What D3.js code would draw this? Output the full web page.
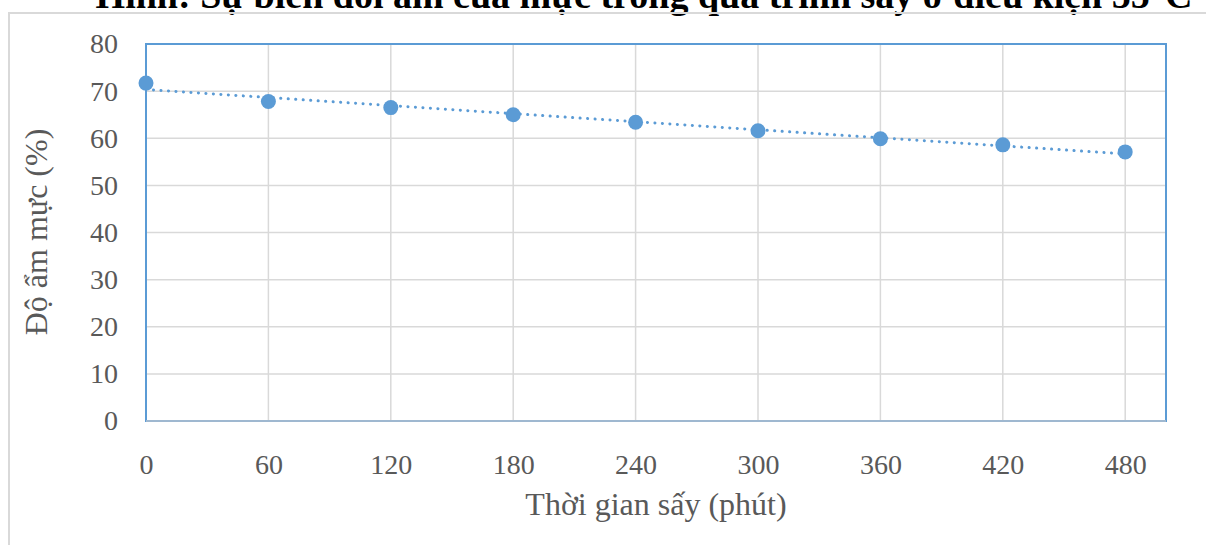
<!DOCTYPE html>
<html>
<head>
<meta charset="utf-8">
<script src="https://cdn.jsdelivr.net/npm/d3@7"></script>
<style>
  body { margin: 0; background: #fff; }
  text { font-family: "Liberation Serif", "Times New Roman", serif; }
</style>
</head>
<body>
<div id="chart"></div>
<script>
// data
const times = [0, 60, 120, 180, 240, 300, 360, 420, 480];
const moisture = [71.7, 67.8, 66.5, 65.0, 63.4, 61.6, 59.9, 58.6, 57.1];
const xTicks = [0, 60, 120, 180, 240, 300, 360, 420, 480];
const yTicks = [0, 10, 20, 30, 40, 50, 60, 70, 80];

const W = 1206, H = 545;
const margin = {top: 44, right: 40, bottom: 124, left: 146};
const width = W - margin.left - margin.right;
const height = H - margin.top - margin.bottom;

const svg = d3.select("#chart")
  .append("svg")
  .attr("width", W)
  .attr("height", H);

// title (its top is cut off in the original picture)
svg.append("text")
  .attr("x", 644)
  .attr("y", 8)
  .attr("text-anchor", "middle")
  .style("font-weight", "bold")
  .style("font-size", "38px")
  .style("fill", "#000")
  .text("Hình: Sự biến đổi ẩm của mực trong quá trình sấy ở điều kiện 55°C");

// outer chart frame
svg.append("rect")
  .attr("x", 9)
  .attr("y", 13)
  .attr("width", W)
  .attr("height", H)
  .attr("fill", "none")
  .attr("stroke", "#d9d9d9")
  .attr("stroke-width", 2);

const g = svg.append("g")
  .attr("transform", `translate(${margin.left}, ${margin.top})`);

const x = d3.scaleLinear().domain([0, 500]).range([0, width]);
const y = d3.scaleLinear().domain([0, 80]).range([height, 0]);

// gridlines
g.append("g")
  .selectAll("line")
  .data(yTicks.filter(d => d > 0 && d < 80))
  .join("line")
    .attr("x1", 0).attr("x2", width)
    .attr("y1", d => y(d)).attr("y2", d => y(d))
    .attr("stroke", "#d9d9d9")
    .attr("stroke-width", 1.5);

g.append("g")
  .selectAll("line")
  .data(xTicks.filter(d => d > 0))
  .join("line")
    .attr("x1", d => x(d)).attr("x2", d => x(d))
    .attr("y1", 0).attr("y2", height)
    .attr("stroke", "#d9d9d9")
    .attr("stroke-width", 1.5);

// plot area border
g.append("rect")
  .attr("width", width)
  .attr("height", height)
  .attr("fill", "none")
  .attr("stroke", "#5b9bd5")
  .attr("stroke-width", 2);

g.append("line")
  .attr("x1", 0).attr("x2", width)
  .attr("y1", height).attr("y2", height)
  .attr("stroke", "#9fb8d0")
  .attr("stroke-width", 2);

// axes (labels only)
const xAxis = g.append("g")
  .attr("transform", `translate(0, ${height})`)
  .call(d3.axisBottom(x).tickValues(xTicks).tickSize(0).tickPadding(33));
const yAxis = g.append("g")
  .call(d3.axisLeft(y).tickValues(yTicks).tickSize(0).tickPadding(28));
[xAxis, yAxis].forEach(a => {
  a.select(".domain").remove();
  a.selectAll("text")
    .style("font-family", "'Liberation Serif', 'Times New Roman', serif")
    .style("font-size", "28px")
    .style("fill", "#595959");
});

// linear trendline (least squares through the points)
const n = times.length;
const mx = d3.mean(times), my = d3.mean(moisture);
const slope = d3.sum(times, (t, i) => (t - mx) * (moisture[i] - my)) / d3.sum(times, t => (t - mx) ** 2);
const icpt = my - slope * mx;
const trend = [times[0], times[n - 1]].map(t => [t, icpt + slope * t]);

g.append("path")
  .datum(trend)
  .attr("d", d3.line().x(d => x(d[0])).y(d => y(d[1])))
  .attr("fill", "none")
  .attr("stroke", "#5b9bd5")
  .attr("stroke-width", 3)
  .attr("stroke-linecap", "round")
  .attr("stroke-dasharray", "0.1 7.4");

// points
g.append("g")
  .selectAll("circle")
  .data(times)
  .join("circle")
    .attr("cx", d => x(d))
    .attr("cy", (d, i) => y(moisture[i]))
    .attr("r", 7.5)
    .attr("fill", "#5b9bd5");

// axis titles
svg.append("text")
  .attr("x", 656)
  .attr("y", 515)
  .attr("text-anchor", "middle")
  .style("font-size", "32px")
  .style("fill", "#595959")
  .text("Thời gian sấy (phút)");

svg.append("text")
  .attr("transform", "translate(47, 232) rotate(-90)")
  .attr("text-anchor", "middle")
  .style("font-size", "32px")
  .style("fill", "#595959")
  .text("Độ ẩm mực (%)");
</script>
</body>
</html>
